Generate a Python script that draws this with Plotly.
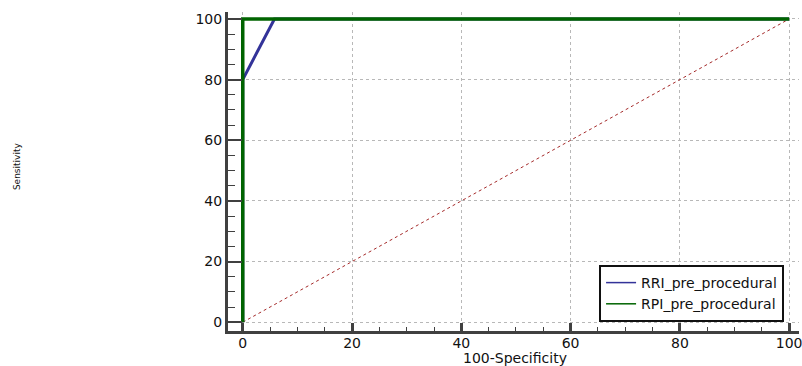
import plotly.graph_objects as go

# Data
rri_x = [0, 0, 5.8, 100]
rri_y = [0, 80, 100, 100]
rpi_x = [0, 0, 100]
rpi_y = [0, 100, 100]
ref_x = [0, 100]
ref_y = [0, 100]
series_names = ["RRI_pre_procedural", "RPI_pre_procedural"]
tick_vals = [0, 20, 40, 60, 80, 100]
tick_text = ["0", "20", "40", "60", "80", "100"]

FONT = "DejaVu Sans"
L, R, T, B = 228, 0, 12, 35
W, H = 802, 366
pw = W - L - R
ph = H - T - B
BLUE = "#333399"
GREEN = "#006400"

fig = go.Figure()
fig.add_trace(go.Scatter(x=ref_x, y=ref_y, mode="lines", showlegend=False,
                         line=dict(color="#a52a2a", width=1, dash="dot")))
fig.add_trace(go.Scatter(x=rri_x, y=rri_y, mode="lines", showlegend=False,
                         line=dict(color=BLUE, width=3)))
fig.add_trace(go.Scatter(x=rpi_x, y=rpi_y, mode="lines", showlegend=False,
                         line=dict(color=GREEN, width=3.5)))
# legend entries (thin sample lines, as in the reference)
for name, col in zip(series_names, [BLUE, GREEN]):
    fig.add_trace(go.Scatter(x=[None], y=[None], mode="lines", name=name,
                             line=dict(color=col, width=1.5)))

axis_common = dict(
    showgrid=True, gridcolor="#b8b8b8", griddash="dot", gridwidth=1,
    zeroline=False, showline=True, linecolor="#404040", linewidth=3,
    ticks="inside", tickcolor="#404040",
    tickvals=tick_vals, ticktext=tick_text,
    tickfont=dict(family=FONT, size=14, color="#111"),
    ticklabeloverflow="allow",
)

fig.update_xaxes(**axis_common, range=[-2.7, 101.8], ticklen=8, tickwidth=3,
                 ticklabelstandoff=-3,
                 minor=dict(dtick=5, tick0=0, ticks="inside", ticklen=4, tickwidth=1,
                            tickcolor="#404040", showgrid=False))
fig.update_yaxes(**axis_common, range=[-2.9, 102.3], ticklen=14, tickwidth=2,
                 minor=dict(dtick=5, tick0=0, ticks="inside", ticklen=7, tickwidth=1,
                            tickcolor="#404040", showgrid=False))

fig.add_annotation(text="100-Specificity", xref="paper", yref="paper",
                   x=(517 - L) / pw, y=(T + ph - 358) / ph, xanchor="center", yanchor="middle",
                   showarrow=False, font=dict(family=FONT, size=14, color="#111"))
fig.add_annotation(text="Sensitivity", xref="paper", yref="paper", textangle=-90,
                   x=(16 - L) / pw, y=(T + ph - 166) / ph, xanchor="center", yanchor="middle",
                   showarrow=False, font=dict(family=FONT, size=9, color="#111"))

fig.update_layout(
    width=W, height=H,
    margin=dict(l=L, r=R, t=T, b=B),
    paper_bgcolor="white", plot_bgcolor="white",
    font=dict(family=FONT, size=13, color="#111"),
    legend=dict(x=(787 - L) / pw, y=(T + ph - 322) / ph, xanchor="right", yanchor="bottom",
                bgcolor="white", bordercolor="#111", borderwidth=2,
                font=dict(family=FONT, size=14, color="#111"),
                tracegroupgap=0, itemwidth=30),
)

fig.write_html("out.html")
